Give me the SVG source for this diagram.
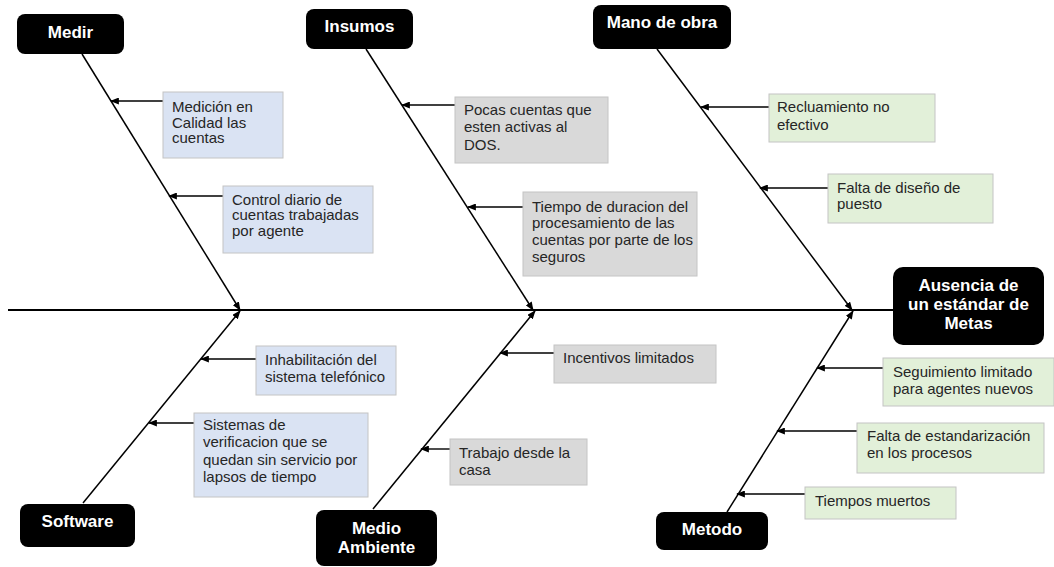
<svg xmlns="http://www.w3.org/2000/svg" width="1054" height="567" viewBox="0 0 1054 567">
  <style>
    .hdr rect { fill: #000; }
    .hdr text { fill: #fff; font-family: "Liberation Sans", Arial, sans-serif; font-weight: bold; font-size: 17px; text-anchor: middle; }
    .cause rect { stroke: #c4c4c4; stroke-width: 1; }
    .cause text { fill: #262626; font-family: "Liberation Sans", Arial, sans-serif; font-size: 15px; }
    .blue rect { fill: #dae3f3; }
    .gray rect { fill: #d9d9d9; }
    .green rect { fill: #e2f0d9; }
    .bone { stroke: #000; stroke-width: 1.5; fill: none; marker-end: url(#tip); }
    .rib { stroke: #000; stroke-width: 1.4; fill: none; marker-end: url(#tip); }
  </style>
  <defs>
    <marker id="tip" viewBox="0 0 10 8" refX="9" refY="4" markerWidth="9" markerHeight="7" markerUnits="userSpaceOnUse" orient="auto">
      <path d="M0,0 L10,4 L0,8 Z" fill="#000"/>
    </marker>
  </defs>
  <rect width="1054" height="567" fill="#fff"/>

  <!-- spine and bones -->
  <g id="connectors">
    <line x1="8" y1="310" x2="893" y2="310" stroke="#000" stroke-width="1.8"/>
    <line class="bone" x1="82" y1="54" x2="240" y2="310"/>
    <line class="bone" x1="366" y1="49" x2="533" y2="310"/>
    <line class="bone" x1="657" y1="49" x2="852" y2="310"/>
    <line class="bone" x1="83" y1="503" x2="240" y2="311"/>
    <line class="bone" x1="373" y1="509" x2="535" y2="311"/>
    <line class="bone" x1="727" y1="512" x2="853" y2="311"/>

    <line class="rib" x1="163" y1="101" x2="111" y2="101"/>
    <line class="rib" x1="223" y1="196" x2="169" y2="196"/>
    <line class="rib" x1="455" y1="105" x2="402" y2="105"/>
    <line class="rib" x1="523" y1="207" x2="468" y2="207"/>
    <line class="rib" x1="769" y1="107" x2="701" y2="107"/>
    <line class="rib" x1="828" y1="188" x2="760" y2="188"/>
    <line class="rib" x1="256" y1="359" x2="201" y2="359"/>
    <line class="rib" x1="194" y1="423" x2="149" y2="423"/>
    <line class="rib" x1="554" y1="353" x2="500" y2="353"/>
    <line class="rib" x1="450" y1="449" x2="421" y2="449"/>
    <line class="rib" x1="883" y1="368" x2="817" y2="368"/>
    <line class="rib" x1="857" y1="431" x2="777" y2="431"/>
    <line class="rib" x1="805" y1="494" x2="737" y2="494"/>
  </g>

  <!-- category headers -->
  <g id="medir" class="hdr">
    <rect x="17" y="14" width="107" height="40" rx="8"/>
    <text x="70.5" y="38">Medir</text>
  </g>
  <g id="insumos" class="hdr">
    <rect x="306" y="9" width="107" height="40" rx="8"/>
    <text x="359.5" y="32">Insumos</text>
  </g>
  <g id="mano-de-obra" class="hdr">
    <rect x="593" y="5" width="138" height="44" rx="8"/>
    <text x="662" y="28">Mano de obra</text>
  </g>
  <g id="software" class="hdr">
    <rect x="20" y="504" width="115" height="43" rx="8"/>
    <text x="77.5" y="527">Software</text>
  </g>
  <g id="medio-ambiente" class="hdr">
    <rect x="316" y="510" width="121" height="56" rx="8"/>
    <text x="376.5" y="534">Medio</text>
    <text x="376.5" y="553">Ambiente</text>
  </g>
  <g id="metodo" class="hdr">
    <rect x="656" y="512" width="112" height="38" rx="8"/>
    <text x="712" y="535">Metodo</text>
  </g>
  <g id="efecto" class="hdr">
    <rect x="893" y="267" width="151" height="78" rx="10"/>
    <text x="968.5" y="291">Ausencia de</text>
    <text x="968.5" y="310">un estándar de</text>
    <text x="968.5" y="329">Metas</text>
  </g>

  <!-- causes: Medir -->
  <g id="c-medicion" class="cause blue">
    <rect x="163" y="92" width="120" height="66"/>
    <text x="172"><tspan x="172" y="112">Medición en</tspan><tspan x="172" y="128">Calidad las</tspan><tspan x="172" y="143">cuentas</tspan></text>
  </g>
  <g id="c-control" class="cause blue">
    <rect x="223" y="186" width="150" height="67"/>
    <text x="232"><tspan x="232" y="205">Control diario de</tspan><tspan x="232" y="220">cuentas trabajadas</tspan><tspan x="232" y="236">por agente</tspan></text>
  </g>

  <!-- causes: Insumos -->
  <g id="c-pocas" class="cause gray">
    <rect x="455" y="97" width="153" height="66"/>
    <text x="464"><tspan x="464" y="115">Pocas cuentas que</tspan><tspan x="464" y="132">esten activas al</tspan><tspan x="464" y="150">DOS.</tspan></text>
  </g>
  <g id="c-tiempo" class="cause gray">
    <rect x="523" y="192" width="174" height="84"/>
    <text x="532"><tspan x="532" y="212">Tiempo de duracion del</tspan><tspan x="532" y="228">procesamiento de las</tspan><tspan x="532" y="245">cuentas por parte de los</tspan><tspan x="532" y="262">seguros</tspan></text>
  </g>

  <!-- causes: Mano de obra -->
  <g id="c-recluamiento" class="cause green">
    <rect x="769" y="94" width="166" height="48"/>
    <text x="777"><tspan x="777" y="112">Recluamiento no</tspan><tspan x="777" y="130">efectivo</tspan></text>
  </g>
  <g id="c-diseno" class="cause green">
    <rect x="828" y="174" width="165" height="49"/>
    <text x="837"><tspan x="837" y="193">Falta de diseño de</tspan><tspan x="837" y="209">puesto</tspan></text>
  </g>

  <!-- causes: Software -->
  <g id="c-inhabilitacion" class="cause blue">
    <rect x="256" y="346" width="140" height="49"/>
    <text x="265"><tspan x="265" y="365">Inhabilitación del</tspan><tspan x="265" y="382">sistema telefónico</tspan></text>
  </g>
  <g id="c-sistemas" class="cause blue">
    <rect x="194" y="413" width="174" height="84"/>
    <text x="203"><tspan x="203" y="430">Sistemas de</tspan><tspan x="203" y="447">verificacion que se</tspan><tspan x="203" y="465">quedan sin servicio por</tspan><tspan x="203" y="482">lapsos de tiempo</tspan></text>
  </g>

  <!-- causes: Medio Ambiente -->
  <g id="c-incentivos" class="cause gray">
    <rect x="554" y="345" width="162" height="38"/>
    <text x="563" y="363">Incentivos limitados</text>
  </g>
  <g id="c-trabajo" class="cause gray">
    <rect x="450" y="439" width="137" height="46"/>
    <text x="459"><tspan x="459" y="458">Trabajo desde la</tspan><tspan x="459" y="475">casa</tspan></text>
  </g>

  <!-- causes: Metodo -->
  <g id="c-seguimiento" class="cause green">
    <rect x="883" y="358" width="171" height="48"/>
    <text x="893"><tspan x="893" y="377">Seguimiento limitado</tspan><tspan x="893" y="394">para agentes nuevos</tspan></text>
  </g>
  <g id="c-estandarizacion" class="cause green">
    <rect x="857" y="423" width="187" height="50"/>
    <text x="867"><tspan x="867" y="441">Falta de estandarización</tspan><tspan x="867" y="458">en los procesos</tspan></text>
  </g>
  <g id="c-muertos" class="cause green">
    <rect x="805" y="487" width="151" height="32"/>
    <text x="815" y="506">Tiempos muertos</text>
  </g>
</svg>
